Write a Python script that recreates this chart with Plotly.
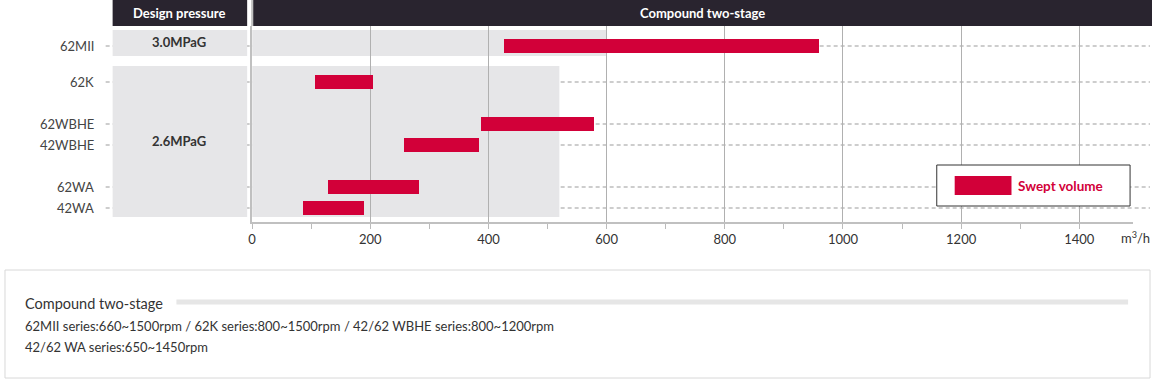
import plotly.graph_objects as go

# ---- data ----
models = ["62MII", "62K", "62WBHE", "42WBHE", "62WA", "42WA"]
vol_min = [427, 106, 388, 258, 128, 86]
vol_max = [960, 204, 578, 384, 283, 189]
pressure_labels = ["3.0MPaG", "2.6MPaG"]
pressure_band_max = [600, 520]
x_ticks = [0, 200, 400, 600, 800, 1000, 1200, 1400]
notes = [
    "62MII series:660~1500rpm / 62K series:800~1500rpm / 42/62 WBHE series:800~1200rpm",
    "42/62 WA series:650~1450rpm",
]

# ---- layout helpers (pixel geometry) ----
W, H = 1152, 379
row_y = [46, 82, 124, 145, 187, 208]          # row centres in px
band_y = [(30, 56), (66, 217)]                # pressure band extents in px
PLOT_L, PLOT_R, PLOT_T, PLOT_B = 249, 1133, 26, 222
XMAX = 1491

RED = "#d20039"
DARK = "#29242f"
BAND = "#e6e6e8"
TXT = "#333333"
FONT = "Lato"


def px(x):
    return x / W


def py(y):
    return 1 - y / H


fig = go.Figure()
fig.add_trace(go.Bar(
    y=row_y,
    x=[b - a for a, b in zip(vol_min, vol_max)],
    base=vol_min,
    orientation="h",
    width=14,
    marker=dict(color=RED, line=dict(width=0)),
    name="Swept volume",
    showlegend=False,
    hovertext=models,
))

shapes = []
ann = []

# bands in plot area
for (y0, y1), xm in zip(band_y, pressure_band_max):
    shapes.append(dict(type="rect", xref="x", yref="y", x0=0, x1=xm, y0=y0, y1=y1,
                       fillcolor=BAND, line=dict(width=0), layer="below"))
# dashed row lines
for y in row_y:
    shapes.append(dict(type="line", xref="paper", yref="y", x0=px(102), x1=px(1150), y0=y, y1=y,
                       line=dict(color="#bdbdbd", width=1.5, dash="4px,3px"), layer="below"))
# left column boxes
for (y0, y1), lab in zip(band_y, pressure_labels):
    shapes.append(dict(type="rect", xref="paper", yref="paper", x0=px(109), x1=px(244),
                       y0=py(y1), y1=py(y0), fillcolor=BAND, line=dict(width=0), layer="below"))
    ann.append(dict(xref="paper", yref="paper", x=px(176), y=py((y0 + y1) / 2 - 1), text="<b>" + lab + "</b>",
                    showarrow=False, font=dict(family=FONT, size=13, color=TXT), xanchor="center", yanchor="middle"))
# header
shapes.append(dict(type="rect", xref="paper", yref="paper", x0=px(109), x1=px(244), y0=py(26), y1=py(0),
                   fillcolor=DARK, line=dict(width=0), layer="above"))
shapes.append(dict(type="rect", xref="paper", yref="paper", x0=px(250), x1=px(1152), y0=py(26), y1=py(0),
                   fillcolor=DARK, line=dict(width=0), layer="above"))
shapes.append(dict(type="line", xref="paper", yref="paper", x0=px(249), x1=px(249), y0=py(26), y1=py(0),
                   line=dict(color="#c0c0c0", width=2), layer="above"))
ann.append(dict(xref="paper", yref="paper", x=px(176), y=py(13), text="<b>Design pressure</b>", showarrow=False,
                font=dict(family=FONT, size=13, color="white"), xanchor="center", yanchor="middle"))
ann.append(dict(xref="paper", yref="paper", x=px(701), y=py(13), text="<b>Compound two-stage</b>", showarrow=False,
                font=dict(family=FONT, size=13, color="white"), xanchor="center", yanchor="middle"))
# row labels
for m, y in zip(models, row_y):
    ann.append(dict(xref="paper", yref="y", x=px(92), y=y, text=m, showarrow=False,
                    font=dict(family=FONT, size=13, color="#444"), xanchor="right", yanchor="middle"))
# unit label
ann.append(dict(xref="paper", yref="paper", x=px(1119), y=py(237), text="m<sup>3</sup>/h", showarrow=False,
                font=dict(family=FONT, size=13, color=TXT), xanchor="left", yanchor="middle"))
# legend box
shapes.append(dict(type="rect", xref="paper", yref="paper", x0=px(936), x1=px(1130), y0=py(206), y1=py(165),
                   fillcolor="white", line=dict(color="#333", width=1), layer="above"))
shapes.append(dict(type="rect", xref="paper", yref="paper", x0=px(954), x1=px(1011), y0=py(195), y1=py(176),
                   fillcolor=RED, line=dict(width=0), layer="above"))
ann.append(dict(xref="paper", yref="paper", x=px(1016), y=py(186), text="<b>Swept volume</b>", showarrow=False,
                font=dict(family=FONT, size=13.5, color=RED), xanchor="left", yanchor="middle"))
# bottom note box
shapes.append(dict(type="rect", xref="paper", yref="paper", x0=px(1), x1=px(1150), y0=py(378), y1=py(270),
                   fillcolor="rgba(0,0,0,0)", line=dict(color="#d8d8d8", width=1), layer="above"))
shapes.append(dict(type="line", xref="paper", yref="paper", x0=px(173), x1=px(1128), y0=py(302), y1=py(302),
                   line=dict(color="#e6e6e6", width=5), layer="above"))
ann.append(dict(xref="paper", yref="paper", x=px(19), y=py(303), text="Compound two-stage", showarrow=False,
                font=dict(family=FONT, size=14.5, color=TXT), xanchor="left", yanchor="middle"))
for i, t in enumerate(notes):
    ann.append(dict(xref="paper", yref="paper", x=px(19), y=py(326 + 21 * i), text=t, showarrow=False,
                    font=dict(family=FONT, size=13, color=TXT), xanchor="left", yanchor="middle"))

fig.update_layout(
    width=W, height=H,
    margin=dict(l=0, r=0, t=0, b=0),
    paper_bgcolor="white",
    plot_bgcolor="rgba(0,0,0,0)",
    showlegend=False,
    shapes=shapes,
    annotations=ann,
    bargap=0,
    xaxis=dict(
        domain=[px(PLOT_L), px(PLOT_R)],
        range=[0, XMAX],
        tickvals=x_ticks,
        ticks="outside", ticklen=4, tickcolor="rgba(0,0,0,0)",
        tickfont=dict(family=FONT, size=13, color=TXT),
        showgrid=True, gridcolor="#b0b0b0", gridwidth=1,
        showline=True, linecolor="#c0c0c0", linewidth=2,
        zeroline=False,
        minor=dict(dtick=100, tick0=0, ticks="outside", ticklen=5, tickcolor="#bbbbbb", showgrid=False),
        fixedrange=True,
    ),
    yaxis=dict(
        domain=[py(PLOT_B), py(PLOT_T)],
        range=[PLOT_B, PLOT_T],
        showticklabels=False, showgrid=False, zeroline=False,
        showline=True, linecolor="#c0c0c0", linewidth=2,
        ticks="",
        fixedrange=True,
    ),
)

fig.write_html(
    "out.html",
    config={"displayModeBar": False},
    post_script="document.body.style.margin='0';document.body.style.padding='0';",
)
